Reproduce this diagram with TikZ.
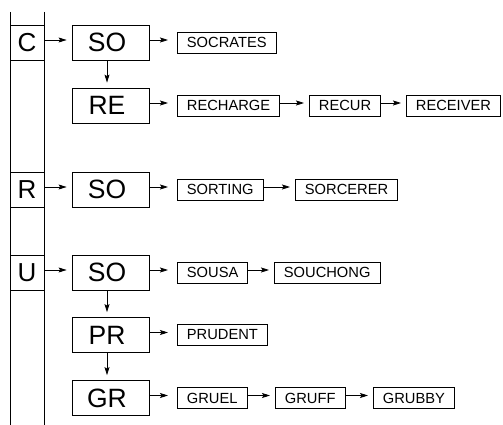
\documentclass[tikz,border=0pt]{standalone}
\usepackage{fontspec}
\setmainfont{Liberation Sans}
\usetikzlibrary{arrows.meta}
\begin{document}
\begin{tikzpicture}[x=1pt,y=-1pt,line width=0.8pt,
  cell/.style={draw, minimum width=34pt, minimum height=35pt, inner sep=0pt,
    font=\fontsize{26}{26}\selectfont},
  big/.style={draw, minimum width=77pt, minimum height=35pt, inner sep=0pt,
    font=\fontsize{26.5}{26.5}\selectfont, execute at begin node={\hspace*{-7pt}}},
  word/.style={draw, anchor=west, minimum height=21pt, inner xsep=9.5pt, inner ysep=0pt,
    font=\fontsize{14.7}{14.7}\selectfont},
  arr/.style={-{Stealth[length=8pt,width=5pt,inset=1.5pt]}, shorten >=5pt},
  arrw/.style={arr, shorten >=9pt}
]
\useasboundingbox (0,0) rectangle (503,425);
% left column
\coordinate (lt) at (10,12);
\coordinate (lb) at (10,425);
\coordinate (rt) at (44,12);
\coordinate (rb) at (44,425);
\draw (lt) -- (lb);
\draw (rt) -- (rb);
\node[cell] (c) at (27,42.5) {C};
\node[cell] (r) at (27,189.5) {R};
\node[cell] (u) at (27,272.5) {U};
% big boxes
\node[big] (so1) at (110.5,42.5) {SO};
\node[big] (re) at (110.5,105.5) {RE};
\node[big] (so2) at (110.5,189.5) {SO};
\node[big] (so3) at (110.5,272.5) {SO};
\node[big] (pr) at (110.5,335) {PR};
\node[big] (gr) at (110.5,398) {GR};
% words
\node[word] (socrates) at (177,42.5) {SOCRATES};
\node[word] (recharge) at (177,105.5) {RECHARGE};
\node[word] (recur) at (309,105.5) {RECUR};
\node[word] (receiver) at (406,105.5) {RECEIVER};
\node[word] (sorting) at (177,189.5) {SORTING};
\node[word] (sorcerer) at (295,189.5) {SORCERER};
\node[word] (sousa) at (177,272.5) {SOUSA};
\node[word] (souchong) at (274,272.5) {SOUCHONG};
\node[word] (prudent) at (177,335) {PRUDENT};
\node[word] (gruel) at (177,398) {GRUEL};
\node[word] (gruff) at (275,398) {GRUFF};
\node[word] (grubby) at (373,398) {GRUBBY};
% arrows: cells to SO
\foreach \a/\b in {c/so1, r/so2, u/so3}
  \draw[arr] ([yshift=2.5pt]\a.east) -- ([yshift=2.5pt]\b.west);
% big to words
\foreach \a/\b in {so1/socrates, re/recharge, so2/sorting, so3/sousa, pr/prudent, gr/gruel}
  \draw[arrw] ([yshift=2.5pt]\a.east) -- ([yshift=2.5pt]\b.west);
% word to word
\foreach \a/\b in {recharge/recur, recur/receiver, sorting/sorcerer, sousa/souchong, gruel/gruff, gruff/grubby}
  \draw[arr] ([yshift=2.5pt]\a.east) -- ([yshift=2.5pt]\b.west);
% down arrows
\foreach \a/\b in {so1/re, so3/pr, pr/gr}
  \draw[arr] ([xshift=-3.5pt]\a.south) -- ([xshift=-3.5pt]\b.north);
\end{tikzpicture}
\end{document}
